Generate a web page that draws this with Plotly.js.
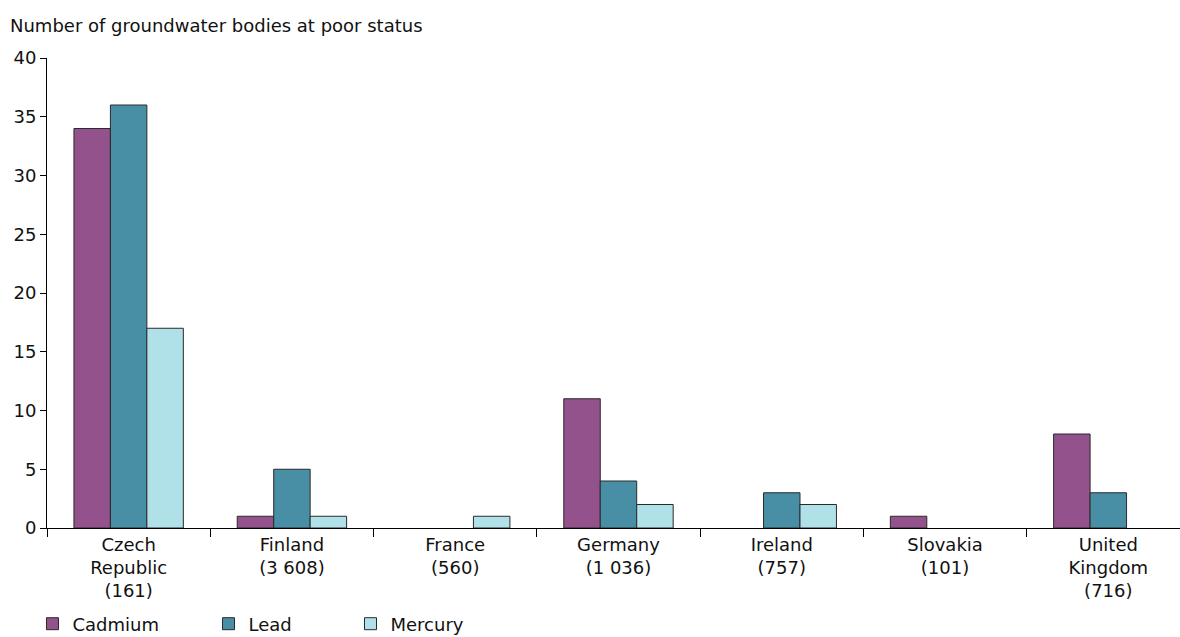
<!DOCTYPE html>
<html>
<head>
<meta charset="utf-8">
<script src="https://cdn.plot.ly/plotly-3.0.1.min.js"></script>
<style>
  html, body { margin: 0; padding: 0; background: #fff; }
  #chart { width: 1180px; height: 637px; }
</style>
</head>
<body>
<div id="chart"></div>
<script>
const categories = ["Czech<br>Republic<br>(161)", "Finland<br>(3 608)", "France<br>(560)", "Germany<br>(1 036)", "Ireland<br>(757)", "Slovakia<br>(101)", "United<br>Kingdom<br>(716)"];
const cadmium = [34, 1, 0, 11, 0, 1, 8];
const lead    = [36, 5, 0, 4, 3, 0, 3];
const mercury = [17, 1, 1, 2, 2, 0, 0];
const yTicks = [0, 5, 10, 15, 20, 25, 30, 35, 40];

const font = "DejaVu Sans, Verdana, sans-serif";
const txt = "#111";

function series(name, values, color, legendId) {
  return {
    type: "bar", name: name, x: categories, y: values,
    legend: legendId,
    marker: {
      color: color,
      line: { color: "#2a2a2a", width: values.map(v => (v > 0 ? 1 : 0)) }
    },
    hoverinfo: "x+y+name"
  };
}

const data = [
  series("Cadmium", cadmium, "#93528C", "legend"),
  series("Lead", lead, "#488EA5", "legend2"),
  series("Mercury", mercury, "#B0E1E8", "legend3")
];

function legendAt(px) {
  return {
    orientation: "h",
    xref: "container", yref: "container",
    x: px / 1180, xanchor: "left",
    y: 1 - 624 / 637, yanchor: "middle",
    font: { family: font, size: 18, color: txt },
    bgcolor: "rgba(0,0,0,0)",
    itemclick: false
  };
}

const layout = {
  width: 1180, height: 637,
  margin: { l: 47, r: 0, t: 58, b: 109, pad: 0 },
  paper_bgcolor: "#fff", plot_bgcolor: "#fff",
  font: { family: font, size: 18, color: txt },
  title: {
    text: "Number of groundwater bodies at poor status",
    font: { family: font, size: 18, color: txt },
    xref: "container", yref: "container",
    x: 10 / 1180, xanchor: "left",
    y: 1 - 26 / 637, yanchor: "middle"
  },
  barmode: "group",
  bargap: 0.33, bargroupgap: 0,
  showlegend: true,
  legend: legendAt(32.5),
  legend2: legendAt(208.5),
  legend3: legendAt(350.5),
  xaxis: {
    type: "category",
    range: [-0.5, 6.439],
    showline: true, linecolor: "#000", linewidth: 1,
    ticks: "outside", tickson: "boundaries", ticklen: 8, tickcolor: "#000",
    showgrid: false, zeroline: false,
    tickfont: { family: font, size: 18, color: txt }
  },
  yaxis: {
    range: [0, 40],
    tickvals: yTicks,
    showline: true, linecolor: "#000", linewidth: 1,
    ticks: "outside", ticklen: 6, tickcolor: "#000",
    showgrid: false, zeroline: false,
    tickfont: { family: font, size: 18, color: txt }
  }
};

Plotly.newPlot("chart", data, layout, { displayModeBar: false, staticPlot: true });
</script>
</body>
</html>
